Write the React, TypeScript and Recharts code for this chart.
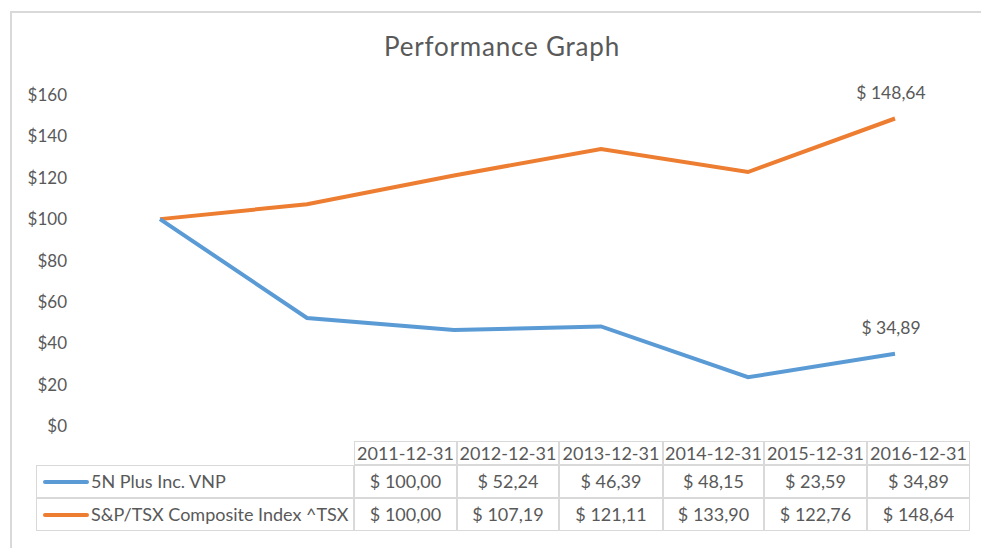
import React from "react";
import { LineChart, Line, XAxis, YAxis, LabelList } from "recharts";

const dates = ["2011-12-31", "2012-12-31", "2013-12-31", "2014-12-31", "2015-12-31", "2016-12-31"];
const vnp = [100.0, 52.24, 46.39, 48.15, 23.59, 34.89];
const tsx = [100.0, 107.19, 121.11, 133.9, 122.76, 148.64];
const yTicks = [0, 20, 40, 60, 80, 100, 120, 140, 160];
const seriesNames = ["5N Plus Inc. VNP", "S&P/TSX Composite Index ^TSX"];
const colors = ["#5b9bd5", "#ed7d31"];

const data = dates.map((d, i) => ({ date: d, vnp: vnp[i], tsx: tsx[i] }));

const fmt = (v: number) => `$ ${v.toFixed(2).replace(".", ",")}`;
const FONT = "Lato, 'Open Sans', sans-serif";
const TEXT = "#595959";
const BORDER = "#d9d9d9";

const lastLabel = (last: number) => (props: any) => {
  const { x, y, value, index } = props;
  if (index !== last) return null;
  return (
    <text x={x - 4} y={y - 20} textAnchor="middle" fill={TEXT} fontSize={17.5} fontFamily={FONT}>
      {fmt(value)}
    </text>
  );
};

const colEdges = [354, 457, 559, 663, 764, 867, 970];

export default function App() {
  const series = [vnp, tsx];
  return (
    <div style={{ position: "absolute", left: 0, top: 0, width: 981, height: 548, background: "#fff", overflow: "hidden", fontFamily: FONT }}>
      <div style={{ position: "absolute", left: 10, top: 11, width: 1000, height: 600, borderLeft: `2px solid ${BORDER}`, borderTop: `2px solid ${BORDER}` }} />
      <div style={{ position: "absolute", left: 0, width: 1004, top: 30, textAlign: "center", fontSize: 26, color: TEXT, letterSpacing: 0.8 }}>
        Performance Graph
      </div>
      <div style={{ position: "absolute", left: 0, top: 0 }}>
        <LineChart width={981} height={548} data={data} margin={{ top: 95, right: 13, bottom: 122, left: 0 }}>
          <XAxis dataKey="date" hide padding={{ left: 74, right: 73 }} />
          <YAxis
            width={86}
            domain={[0, 160]}
            ticks={yTicks}
            tickFormatter={(v: number) => `$${v}`}
            axisLine={false}
            tickLine={false}
            tickSize={0}
            tickMargin={19}
            tick={{ fill: TEXT, fontSize: 17, fontFamily: FONT }}
          />
          <Line dataKey="tsx" stroke={colors[1]} strokeWidth={4} dot={false} isAnimationActive={false}>
            <LabelList dataKey="tsx" content={lastLabel(dates.length - 1)} />
          </Line>
          <Line dataKey="vnp" stroke={colors[0]} strokeWidth={4} dot={false} isAnimationActive={false}>
            <LabelList dataKey="vnp" content={lastLabel(dates.length - 1)} />
          </Line>
        </LineChart>
      </div>
      {/* data table */}
      <div style={{ position: "absolute", left: 0, top: 0, color: TEXT, fontSize: 18 }}>
        {dates.map((d, i) => (
          <div key={d} style={{ position: "absolute", left: colEdges[i], top: 441, width: colEdges[i + 1] - colEdges[i], height: 24, boxSizing: "border-box", border: `1.5px solid ${BORDER}`, textAlign: "center", lineHeight: "22px", whiteSpace: "nowrap" }}>
            {d}
          </div>
        ))}
        {series.map((vals, r) => (
          <React.Fragment key={r}>
            <div style={{ position: "absolute", left: 36, top: 465 + r * 33, width: colEdges[0] - 36, height: 33, boxSizing: "border-box", border: `1.5px solid ${BORDER}`, whiteSpace: "nowrap", lineHeight: "31px" }}>
              <span style={{ position: "absolute", left: 6, top: 14, width: 46, height: 4, background: colors[r], borderRadius: 2 }} />
              <span style={{ position: "absolute", left: 54 }}>{seriesNames[r]}</span>
            </div>
            {vals.map((v, i) => (
              <div key={i} style={{ position: "absolute", left: colEdges[i], top: 465 + r * 33, width: colEdges[i + 1] - colEdges[i], height: 33, boxSizing: "border-box", border: `1.5px solid ${BORDER}`, textAlign: "center", lineHeight: "31px", whiteSpace: "nowrap" }}>
                {fmt(v)}
              </div>
            ))}
          </React.Fragment>
        ))}
      </div>
    </div>
  );
}
